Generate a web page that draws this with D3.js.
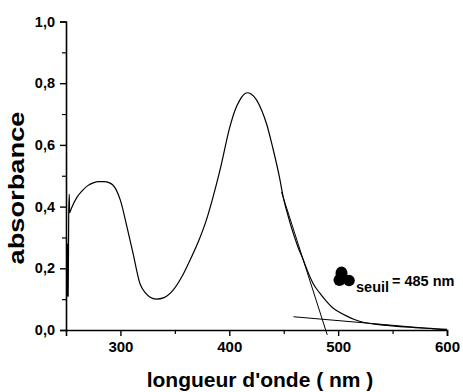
<!DOCTYPE html>
<html>
<head>
<meta charset="utf-8">
<script src="https://cdn.jsdelivr.net/npm/d3@7"></script>
<style>
  body { margin: 0; background: #fff; }
  text { font-family: "Liberation Sans", Arial, sans-serif; font-weight: bold; }
</style>
</head>
<body>
<div id="graph"></div>
<script>
// spectrum: [wavelength nm, absorbance]
const wavelengths = [250.5, 251, 251.5, 252, 252.5, 253, 253.3, 255, 260, 265, 270, 275, 280, 285, 290, 293, 296, 300, 306, 311.5, 318, 323, 327, 333, 340, 348.6, 356, 364, 372, 379, 385, 391.5, 400.6, 405, 409.8, 413, 416.6, 420, 425, 430, 434, 440, 446, 449.6, 454, 458.8, 463, 468, 472, 477, 483, 489.5, 495, 500, 508, 515, 523, 535, 545, 554, 570, 585, 600];
const absorbance = [0.30, 0.107, 0.28, 0.11, 0.38, 0.44, 0.38, 0.395, 0.43, 0.452, 0.468, 0.477, 0.481, 0.481, 0.477, 0.47, 0.455, 0.42, 0.334, 0.25, 0.15, 0.12, 0.107, 0.100, 0.105, 0.13, 0.17, 0.227, 0.29, 0.357, 0.43, 0.519, 0.659, 0.71, 0.746, 0.762, 0.769, 0.765, 0.746, 0.71, 0.671, 0.59, 0.497, 0.43, 0.37, 0.313, 0.27, 0.227, 0.19, 0.151, 0.12, 0.092, 0.072, 0.06, 0.045, 0.034, 0.025, 0.018, 0.015, 0.012, 0.008, 0.005, 0.002];

// tangent lines used to find the threshold
const steepTangent = [[448, 0.447], [490, -0.016]];
const baseTangent = [[459, 0.043], [600, 0.0]];

const xTicks = [300, 400, 500, 600];
const xMinor = [350, 450, 550];
const yTicks = [0, 0.2, 0.4, 0.6, 0.8, 1.0];
const yMinor = [0.1, 0.3, 0.5, 0.7, 0.9];

const width = 463, height = 392;
const x = d3.scaleLinear().domain([250, 600]).range([66, 447]);
const y = d3.scaleLinear().domain([0, 1]).range([330, 21.5]);
const fmt = d3.format(".1f");

const svg = d3.select("#graph")
    .append("svg")
    .attr("width", width)
    .attr("height", height);

// minor ticks first, so the main axes draw over them
svg.append("g")
    .attr("transform", "translate(0,330)")
    .call(d3.axisBottom(x).tickValues(xMinor).tickSize(4).tickFormat(""))
    .call(g => g.select(".domain").remove())
    .selectAll("line").attr("stroke-width", 1.2);
svg.append("g")
    .attr("transform", "translate(66,0)")
    .call(d3.axisLeft(y).tickValues(yMinor).tickSize(4).tickFormat(""))
    .call(g => g.select(".domain").remove())
    .selectAll("line").attr("stroke-width", 1.2);

// x axis
const gx = svg.append("g")
    .attr("transform", "translate(0,330)")
    .call(d3.axisBottom(x).tickValues(xTicks).tickSizeOuter(0).tickSize(6).tickPadding(5));
gx.select(".domain").attr("stroke-width", 1.6);
gx.selectAll("line").attr("stroke-width", 1.4);
gx.selectAll("text").attr("font-size", 15).attr("fill", "#000");

// y axis
const gy = svg.append("g")
    .attr("transform", "translate(66,0)")
    .call(d3.axisLeft(y).tickValues(yTicks).tickSizeOuter(0).tickSize(6).tickPadding(5)
        .tickFormat(d => fmt(d).replace(".", ",")));
gy.select(".domain").attr("stroke-width", 1.6);
gy.selectAll("line").attr("stroke-width", 1.4);
gy.selectAll("text").attr("font-size", 14.5).attr("fill", "#000");

// spectrum
const points = wavelengths.map((w, i) => [w, absorbance[i]]);
const line = d3.line().x(d => x(d[0])).y(d => y(d[1])).curve(d3.curveMonotoneX);
svg.append("path")
    .datum(points)
    .attr("fill", "none")
    .attr("stroke", "#000")
    .attr("stroke-width", 1.2)
    .attr("d", line);

const straight = d3.line().x(d => x(d[0])).y(d => y(d[1]));
[steepTangent, baseTangent].forEach(t => {
    svg.append("path")
        .datum(t)
        .attr("fill", "none")
        .attr("stroke", "#000")
        .attr("stroke-width", 1)
        .attr("d", straight);
});

// threshold annotation (lambda symbol shown as a filled blob)
const blob = svg.append("g").attr("fill", "#000");
blob.append("ellipse").attr("cx", 341.5).attr("cy", 273.5).attr("rx", 6).attr("ry", 7);
blob.append("circle").attr("cx", 339.5).attr("cy", 280).attr("r", 6);
blob.append("circle").attr("cx", 349).attr("cy", 280.5).attr("r", 5.8);
blob.append("rect").attr("x", 336).attr("y", 274).attr("width", 10).attr("height", 8);

svg.append("text")
    .attr("x", 356).attr("y", 292)
    .attr("font-size", 14.5)
    .text("seuil");
svg.append("text")
    .attr("x", 392).attr("y", 286)
    .attr("font-size", 14.5)
    .text("= 485 nm");

// axis titles
svg.append("text")
    .attr("x", 260).attr("y", 387)
    .attr("text-anchor", "middle")
    .attr("font-size", 21)
    .text("longueur d'onde ( nm )");
svg.append("text")
    .attr("transform", "translate(24,188) rotate(-90)")
    .attr("text-anchor", "middle")
    .attr("font-size", 22)
    .attr("textLength", 153)
    .attr("lengthAdjust", "spacingAndGlyphs")
    .text("absorbance");
</script>
</body>
</html>
